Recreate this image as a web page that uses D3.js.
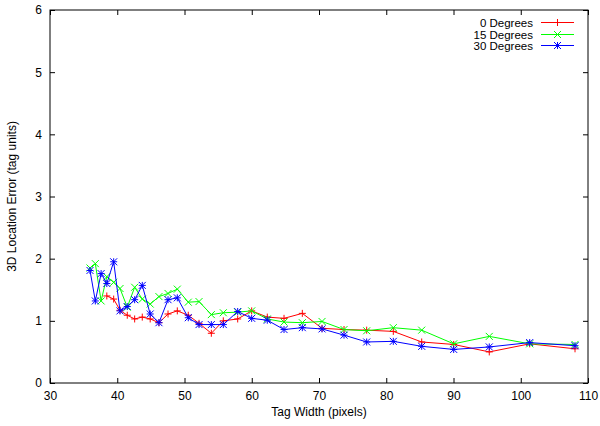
<!DOCTYPE html>
<html>
<head>
<meta charset="utf-8">
<script src="https://cdn.jsdelivr.net/npm/d3@7"></script>
<style>
  body { margin: 0; background: #fff; }
  svg { display: block; font-family: "Liberation Sans", Arial, sans-serif; }
</style>
</head>
<body>
<svg id="chart" width="600" height="426"></svg>
<script>
// tag widths (pixels), shared by all series
const tagWidth = [35.95, 36.74, 37.6, 38.45, 39.47, 40.41, 41.49, 42.59, 43.72, 44.9,
  46.2, 47.55, 48.93, 50.56, 52.16, 53.99, 55.77, 57.91, 59.99, 62.31,
  64.8, 67.52, 70.45, 73.72, 77.09, 81.05, 85.27, 90.03, 95.32, 101.33, 108.07];

// 0 degrees starts at the 4th width
const err0 = [null, null, null, 1.40, 1.35, 1.17, 1.09, 1.03, 1.06, 1.03,
  0.97, 1.11, 1.16, 1.09, 0.96, 0.80, 1.00, 1.03, 1.16, 1.06,
  1.04, 1.12, 0.88, 0.86, 0.85, 0.83, 0.66, 0.62, 0.50, 0.63, 0.55];
const err15 = [1.85, 1.92, 1.32, 1.71, 1.62, 1.52, 1.22, 1.54, 1.35, 1.27,
  1.39, 1.44, 1.51, 1.30, 1.31, 1.10, 1.13, 1.14, 1.16, 1.03,
  0.98, 0.97, 0.99, 0.86, 0.84, 0.89, 0.85, 0.63, 0.75, 0.63, 0.62];
const err30 = [1.81, 1.32, 1.76, 1.60, 1.95, 1.16, 1.23, 1.34, 1.57, 1.11,
  0.97, 1.34, 1.37, 1.05, 0.94, 0.94, 0.94, 1.15, 1.04, 1.01,
  0.86, 0.89, 0.87, 0.77, 0.66, 0.67, 0.59, 0.54, 0.58, 0.65, 0.60];

const seriesNames = ["0 Degrees", "15 Degrees", "30 Degrees"];
const seriesColors = ["#ff0000", "#00ff00", "#0000ff"];
const seriesMarkers = ["plus", "cross", "star"];

const xTicks = [30, 40, 50, 60, 70, 80, 90, 100, 110];
const yTicks = [0, 1, 2, 3, 4, 5, 6];

const svg = d3.select("#chart");
const plotL = 50, plotR = 588, plotT = 10, plotB = 383;
const fontSize = 12;

const x = d3.scaleLinear().domain([30, 110]).range([plotL, plotR]);
const y = d3.scaleLinear().domain([0, 6]).range([plotB, plotT]);

//axes with inward ticks, mirrored on top and right
const tickLen = 5;
const gx = svg.append("g").attr("transform", `translate(0,${plotB})`)
  .call(d3.axisBottom(x).tickValues(xTicks).tickSize(-tickLen).tickPadding(8).tickFormat(d3.format("d")));
const gxTop = svg.append("g").attr("transform", `translate(0,${plotT})`)
  .call(d3.axisTop(x).tickValues(xTicks).tickSize(-tickLen).tickFormat(""));
const gy = svg.append("g").attr("transform", `translate(${plotL},0)`)
  .call(d3.axisLeft(y).tickValues(yTicks).tickSize(-tickLen).tickPadding(8).tickFormat(d3.format("d")));
const gyRight = svg.append("g").attr("transform", `translate(${plotR},0)`)
  .call(d3.axisRight(y).tickValues(yTicks).tickSize(-tickLen).tickFormat(""));

[gx, gxTop, gy, gyRight].forEach(g => {
  g.select(".domain").remove();
  g.selectAll("line").attr("stroke", "#000");
  g.selectAll("text").attr("font-size", fontSize).attr("fill", "#000").style("font-family", "Liberation Sans, Arial, sans-serif");
});

//frame
svg.append("rect")
  .attr("x", plotL).attr("y", plotT)
  .attr("width", plotR - plotL).attr("height", plotB - plotT)
  .attr("fill", "none").attr("stroke", "#000").attr("stroke-width", 1);

//axis titles
svg.append("text")
  .attr("x", (plotL + plotR) / 2).attr("y", 416)
  .attr("text-anchor", "middle").attr("font-size", fontSize)
  .text("Tag Width (pixels)");
svg.append("text")
  .attr("transform", `translate(16,${(plotT + plotB) / 2}) rotate(-90)`)
  .attr("text-anchor", "middle").attr("font-size", fontSize)
  .text("3D Location Error (tag units)");

//marker shapes
function drawMarker(g, type, cx, cy, color) {
  const s = 3.5;
  let d = "";
  if (type === "plus" || type === "star")
    d += `M${cx - s},${cy}H${cx + s}M${cx},${cy - s}V${cy + s}`;
  if (type === "cross" || type === "star")
    d += `M${cx - s},${cy - s}L${cx + s},${cy + s}M${cx - s},${cy + s}L${cx + s},${cy - s}`;
  g.append("path").attr("d", d).attr("stroke", color).attr("stroke-width", 1).attr("fill", "none");
}

const allSeries = [err0, err15, err30];
const line = d3.line()
  .defined(d => d[1] != null)
  .x(d => x(d[0]))
  .y(d => y(d[1]));

allSeries.forEach((vals, k) => {
  const pts = tagWidth.map((w, i) => [w, vals[i]]);
  const g = svg.append("g");
  g.append("path")
    .attr("d", line(pts))
    .attr("fill", "none")
    .attr("stroke", seriesColors[k])
    .attr("stroke-width", 1);
  pts.filter(p => p[1] != null).forEach(p =>
    drawMarker(g, seriesMarkers[k], x(p[0]), y(p[1]), seriesColors[k]));
});

//legend
const legX = 533, legLine0 = 541, legLine1 = 574;
seriesNames.forEach((name, k) => {
  const ly = Math.round(22 + k * 11.5) + 0.5;
  svg.append("text")
    .attr("x", legX).attr("y", ly + 4)
    .attr("text-anchor", "end").attr("font-size", 11.5)
    .text(name);
  svg.append("line")
    .attr("x1", legLine0).attr("x2", legLine1)
    .attr("y1", ly).attr("y2", ly)
    .attr("stroke", seriesColors[k]).attr("stroke-width", 1);
  drawMarker(svg, seriesMarkers[k], (legLine0 + legLine1) / 2, ly, seriesColors[k]);
});
</script>
</body>
</html>
